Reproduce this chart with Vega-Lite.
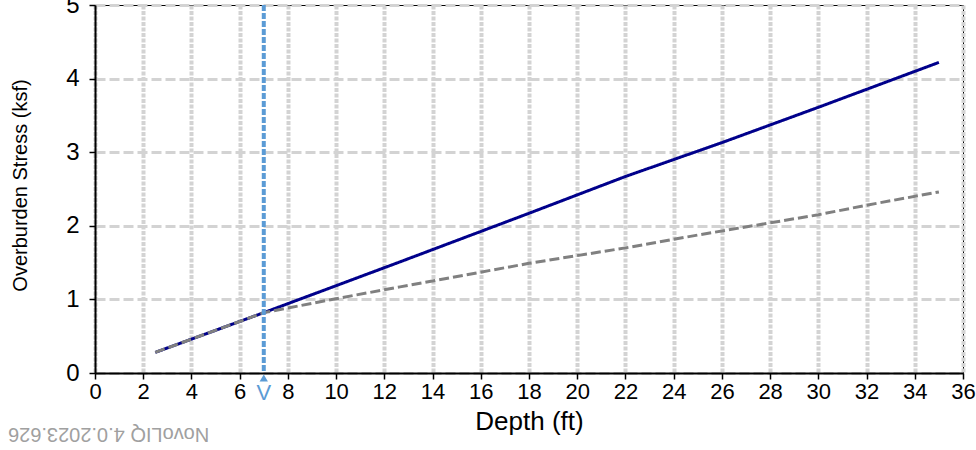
{
  "$schema": "https://vega.github.io/schema/vega-lite/v6.json",
  "width": 868,
  "height": 368,
  "autosize": "none",
  "padding": {"left": 95, "top": 5, "right": 13, "bottom": 77},
  "background": "white",
  "config": {
    "view": {"stroke": "#000000", "strokeWidth": 1},
    "font": "Liberation Sans"
  },
  "title": {
    "text": "NovoLIQ 4.0.2023.626",
    "orient": "bottom",
    "anchor": "start",
    "frame": "group",
    "angle": 180,
    "align": "right",
    "baseline": "top",
    "fontSize": 20,
    "fontWeight": "normal",
    "font": "Liberation Sans",
    "color": "#a0a0a0",
    "dx": 87,
    "offset": 10
  },
  "datasets": {
    "stress": [
      {"depth": 2.5, "stress": 0.28, "series": "Total"},
      {"depth": 7, "stress": 0.82, "series": "Total"},
      {"depth": 12.65, "stress": 1.51, "series": "Total"},
      {"depth": 18, "stress": 2.17, "series": "Total"},
      {"depth": 22, "stress": 2.67, "series": "Total"},
      {"depth": 26, "stress": 3.13, "series": "Total"},
      {"depth": 30, "stress": 3.61, "series": "Total"},
      {"depth": 35, "stress": 4.22, "series": "Total"},
      {"depth": 2.5, "stress": 0.28, "series": "Effective"},
      {"depth": 7, "stress": 0.82, "series": "Effective"},
      {"depth": 10, "stress": 1.01, "series": "Effective"},
      {"depth": 12.65, "stress": 1.17, "series": "Effective"},
      {"depth": 18, "stress": 1.49, "series": "Effective"},
      {"depth": 22, "stress": 1.7, "series": "Effective"},
      {"depth": 25.1, "stress": 1.88, "series": "Effective"},
      {"depth": 28, "stress": 2.04, "series": "Effective"},
      {"depth": 30, "stress": 2.15, "series": "Effective"},
      {"depth": 32, "stress": 2.28, "series": "Effective"},
      {"depth": 35, "stress": 2.46, "series": "Effective"}
    ],
    "water": [{"depth": 7, "y": 0, "ylab": -0.27, "label": "V"}]
  },
  "layer": [
    {
      "data": {"name": "stress"},
      "mark": {"type": "line", "strokeWidth": 3},
      "encoding": {
        "x": {
          "field": "depth",
          "type": "quantitative",
          "scale": {"domain": [0, 36], "nice": false, "zero": false},
          "axis": {
            "title": "Depth (ft)",
            "titleFontSize": 26,
            "titleFontWeight": "normal",
            "titleColor": "#000000",
            "titlePadding": 6,
            "values": [0,1,2,3,4,5,6,7,8,9,10,11,12,13,14,15,16,17,18,19,20,21,22,23,24,25,26,27,28,29,30,31,32,33,34,35,36],
            "labelExpr": "datum.value % 2 === 0 ? format(datum.value, 'd') : ''",
            "labelFontSize": 22,
            "labelColor": "#000000",
            "labelPadding": 2,
            "labelFlush": false,
            "labelOverlap": false,
            "domainColor": "#000000",
            "domainWidth": 2,
            "tickColor": "#000000",
            "tickWidth": 1.5,
            "tickSize": {"condition": {"test": "datum.value % 2 === 0", "value": 6}, "value": 4},
            "grid": true,
            "gridColor": "#d3d3d3",
            "gridWidth": 4,
            "gridDash": [4, 1.5],
            "gridOpacity": {"condition": {"test": "datum.value % 2 === 0", "value": 1}, "value": 0}
          }
        },
        "y": {
          "field": "stress",
          "type": "quantitative",
          "scale": {"domain": [0, 5], "nice": false},
          "axis": {
            "title": "Overburden Stress (ksf)",
            "titleFontSize": 20,
            "titleFontWeight": "normal",
            "titleColor": "#000000",
            "titleX": -65,
            "titleY": 180,
            "values": [0, 0.5, 1, 1.5, 2, 2.5, 3, 3.5, 4, 4.5, 5],
            "labelExpr": "datum.value % 1 === 0 ? format(datum.value, 'd') : ''",
            "labelFontSize": 24,
            "labelColor": "#000000",
            "labelPadding": 10,
            "labelFlush": false,
            "labelOverlap": false,
            "domainColor": "#000000",
            "domainWidth": 2,
            "tickColor": "#000000",
            "tickWidth": 1.5,
            "tickSize": 6,
            "grid": true,
            "gridColor": "#d3d3d3",
            "gridWidth": 3,
            "gridDash": [10, 4],
            "gridOpacity": {"condition": {"test": "datum.value % 1 === 0", "value": 1}, "value": 0}
          }
        },
        "color": {
          "field": "series",
          "type": "nominal",
          "scale": {"domain": ["Total", "Effective"], "range": ["#00008b", "#808080"]},
          "legend": null
        },
        "strokeDash": {
          "field": "series",
          "type": "nominal",
          "scale": {"domain": ["Total", "Effective"], "range": [[1, 0], [10, 4]]},
          "legend": null
        }
      }
    },
    {
      "data": {"name": "water"},
      "mark": {"type": "rule", "color": "#5b9bd5", "strokeWidth": 4, "strokeDash": [6, 2]},
      "encoding": {
        "x": {"field": "depth", "type": "quantitative"}
      }
    },
    {
      "data": {"name": "water"},
      "mark": {"type": "point", "shape": "triangle-up", "filled": true, "color": "#5b9bd5", "opacity": 1, "size": 70, "yOffset": 5},
      "encoding": {
        "x": {"field": "depth", "type": "quantitative"},
        "y": {"field": "y", "type": "quantitative"}
      }
    },
    {
      "data": {"name": "water"},
      "mark": {"type": "text", "color": "#5b9bd5", "fontSize": 22, "font": "Liberation Sans"},
      "encoding": {
        "x": {"field": "depth", "type": "quantitative"},
        "y": {"field": "ylab", "type": "quantitative"},
        "text": {"field": "label"}
      }
    }
  ]
}
